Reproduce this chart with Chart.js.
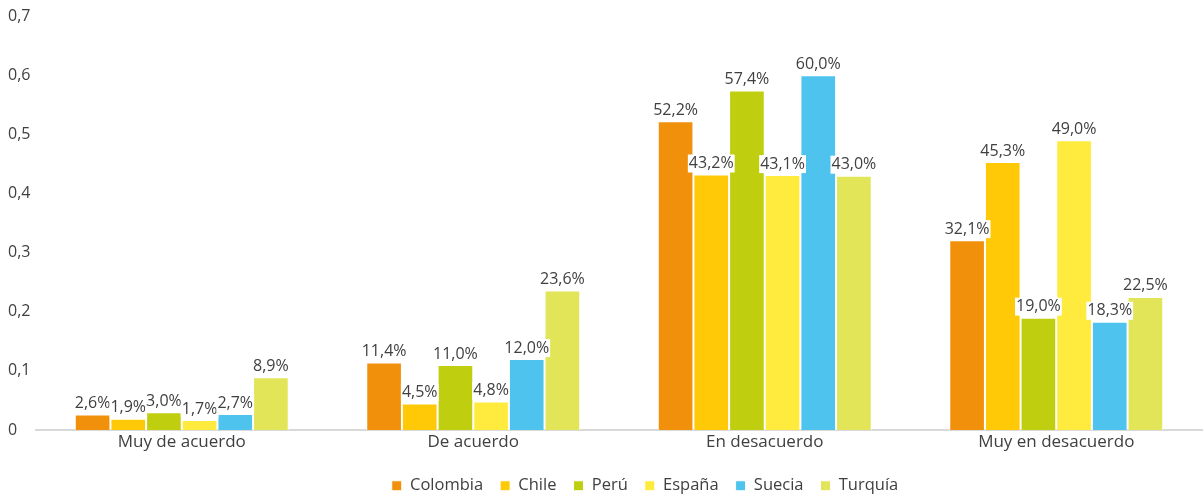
<!DOCTYPE html>
<html>
<head>
<meta charset="utf-8">
<script src="https://cdn.jsdelivr.net/npm/chart.js@4/dist/chart.umd.min.js"></script>
<style>
html,body{margin:0;padding:0;background:#fff;}
#wrap{width:1203px;height:496px;position:relative;}
</style>
</head>
<body>
<div id="wrap"><canvas id="c"></canvas></div>
<script>
const categories = ["Muy de acuerdo", "De acuerdo", "En desacuerdo", "Muy en desacuerdo"];
const colombia = [0.026, 0.114, 0.522, 0.321];
const chile    = [0.019, 0.045, 0.432, 0.453];
const peru     = [0.030, 0.110, 0.574, 0.190];
const espana   = [0.017, 0.048, 0.431, 0.490];
const suecia   = [0.027, 0.120, 0.600, 0.183];
const turquia  = [0.089, 0.236, 0.430, 0.225];
const seriesNames = ["Colombia", "Chile", "Perú", "España", "Suecia", "Turquía"];
const yTicks = [0, 0.1, 0.2, 0.3, 0.4, 0.5, 0.6, 0.7];

const colors = ["#F1900A", "#FFC907", "#BFCF10", "#FFEB3D", "#4EC3EE", "#E2E558"];
const seriesData = [colombia, chile, peru, espana, suecia, turquia];
const FONT = "'Open Sans', sans-serif";
const TXT = "#404040";

const labelPlugin = {
  id: 'barLabels',
  afterDatasetsDraw(chart) {
    const ctx = chart.ctx;
    ctx.save();
    ctx.font = "16px " + FONT;
    ctx.textAlign = 'center';
    ctx.textBaseline = 'middle';
    chart.data.datasets.forEach((ds, i) => {
      const meta = chart.getDatasetMeta(i);
      meta.data.forEach((bar, j) => {
        const v = ds.data[j];
        const txt = (v * 100).toFixed(1).replace('.', ',') + '%';
        const w = ctx.measureText(txt).width;
        const y = bar.y - 11;
        ctx.fillStyle = '#fff';
        ctx.fillRect(bar.x - w / 2 - 1, y - 9, w + 2, 18);
        ctx.fillStyle = TXT;
        ctx.fillText(txt, bar.x, y);
      });
    });
    ctx.restore();
  }
};

const legendShift = {
  id: 'legendShift',
  afterLayout(chart) {
    const l = chart.legend;
    if (l) { l.left += 40; l.right += 40; }
  }
};

new Chart(document.getElementById('c'), {
  type: 'bar',
  data: {
    labels: categories,
    datasets: seriesNames.map((n, i) => ({
      label: n,
      data: seriesData[i],
      backgroundColor: colors[i],
      borderColor: '#ffffff',
      borderWidth: 1,
      categoryPercentage: 0.734,
      barPercentage: 1.0
    }))
  },
  options: {
    responsive: true,
    maintainAspectRatio: false,
    animation: false,
    layout: { padding: { left: 8, right: 1, top: 16, bottom: -8 } },
    plugins: {
      tooltip: { enabled: false },
      legend: {
        position: 'bottom',
        labels: {
          font: { family: FONT, size: 16.5 },
          color: TXT,
          boxWidth: 10,
          boxHeight: 10,
          padding: 17
        }
      }
    },
    scales: {
      x: {
        afterFit(s) { s.height = 30.5; },
        grid: { display: false, drawTicks: false },
        border: { display: true, color: '#d9d9d9', width: 2 },
        ticks: { font: { family: FONT, size: 17 }, color: TXT, padding: 2 }
      },
      y: {
        min: 0, max: 0.7,
        afterFit(s) { s.width = 28; },
        afterBuildTicks(s) { s.ticks = yTicks.map(v => ({ value: v })); },
        grid: { display: false },
        border: { display: false },
        ticks: {
          crossAlign: 'far',
          font: { family: FONT, size: 16 },
          color: TXT,
          callback: v => String(Math.round(v * 10) / 10).replace('.', ',')
        }
      }
    }
  },
  plugins: [labelPlugin, legendShift]
});
</script>
</body>
</html>
